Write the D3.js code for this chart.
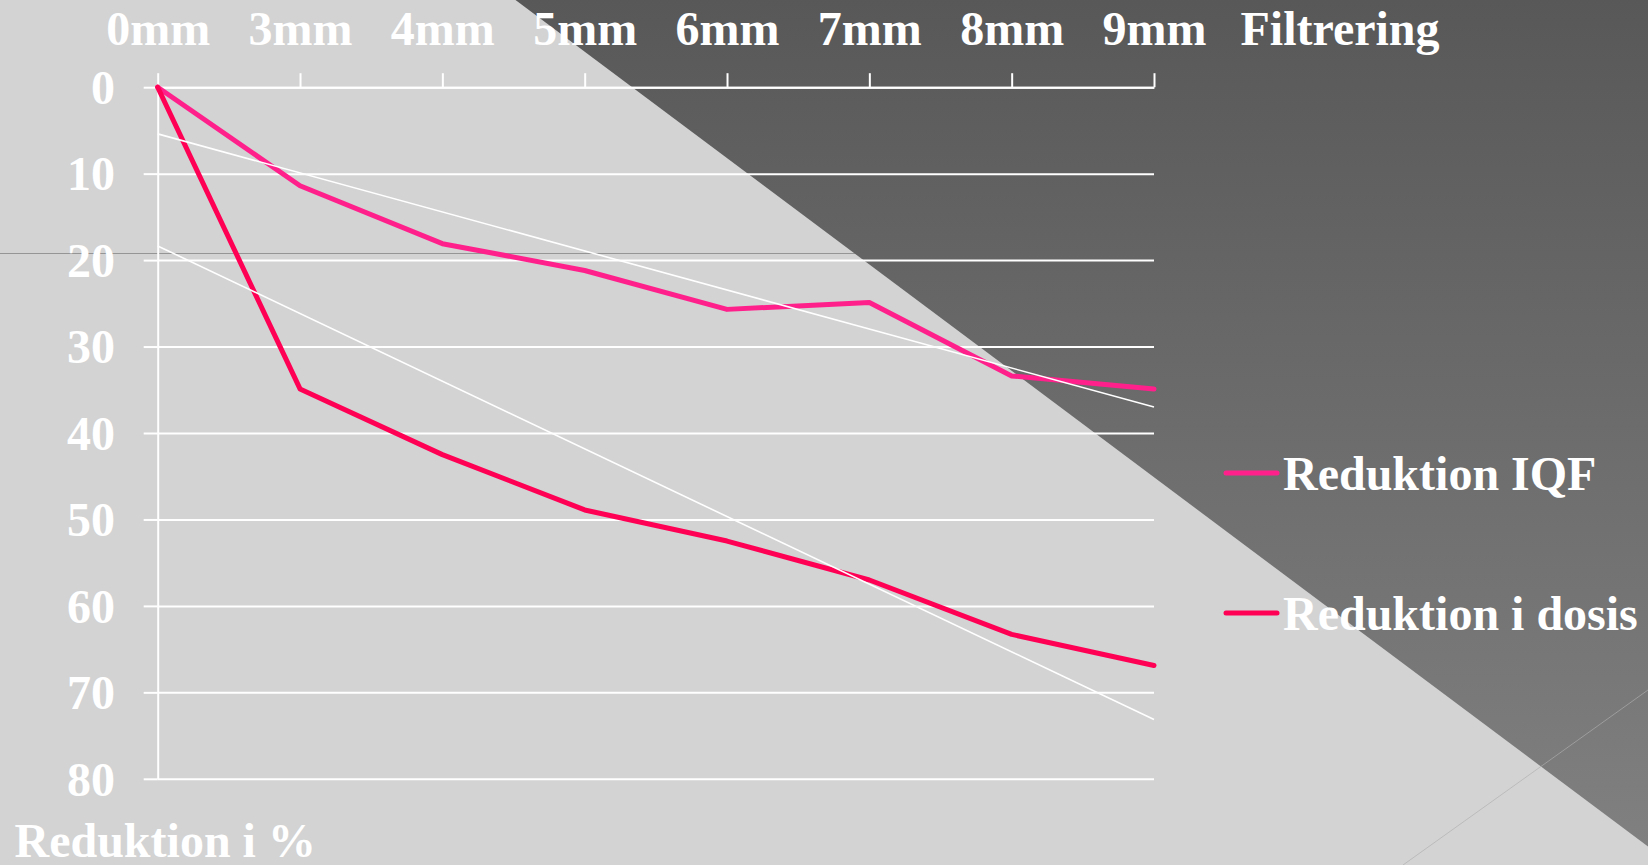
<!DOCTYPE html>
<html>
<head>
<meta charset="utf-8">
<script src="https://cdn.jsdelivr.net/npm/d3@7"></script>
<style>
  html, body { margin: 0; padding: 0; background: #d3d3d3; overflow: hidden; }
  svg { display: block; }
  text { font-family: "Liberation Serif", "Times New Roman", serif; font-weight: bold; fill: #ffffff; }
</style>
</head>
<body>
<svg id="chart" width="1648" height="865"></svg>
<script>
// Filter thickness categories (top axis)
const filters = ["0mm", "3mm", "4mm", "5mm", "6mm", "7mm", "8mm", "9mm"];
// Reduction in image quality figure (%)
const reduktionIQF = [0, 11.4, 18.1, 21.2, 25.7, 24.9, 33.4, 34.9];
// Reduction in dose (%)
const reduktionDosis = [0, 34.9, 42.5, 48.9, 52.5, 57.0, 63.3, 66.9];
// Y axis ticks
const yTicks = [0, 10, 20, 30, 40, 50, 60, 70, 80];
const seriesNames = ["Reduktion IQF", "Reduktion i dosis"];
const seriesColors = ["#ff208c", "#ff0055"];
const xTitle = "Filtrering";
const yTitle = "Reduktion i %";

const W = 1648, H = 865;
const svg = d3.select("#chart");

// Background
svg.append("rect").attr("width", W).attr("height", H).attr("fill", "#d3d3d3");

// Thin gray rule across the background
svg.append("line")
  .attr("x1", 0).attr("x2", 900).attr("y1", 253.5).attr("y2", 253.5)
  .attr("stroke", "#959595").attr("stroke-width", 1);

// Dark diagonal panel with a vertical shade
const defs = svg.append("defs");
const grad = defs.append("linearGradient").attr("id", "shade")
  .attr("x1", 0).attr("y1", 0).attr("x2", 0).attr("y2", 1);
grad.append("stop").attr("offset", "0%").attr("stop-color", "#585858");
grad.append("stop").attr("offset", "100%").attr("stop-color", "#808080");
svg.append("path")
  .attr("d", `M515.5,0 L${W},0 L${W},846.5 Z`)
  .attr("fill", "url(#shade)");

// Faint decorative diagonal bottom right
svg.append("line")
  .attr("x1", W).attr("y1", 690).attr("x2", 1403).attr("y2", H)
  .attr("stroke", "rgba(175,175,175,0.65)").attr("stroke-width", 1);

// Scales
const x0 = 157.7, x1 = 1154;
const x = d3.scalePoint().domain(filters).range([x0, x1]);
const y = d3.scaleLinear().domain([0, 80]).range([87.2, 778.8]);

// Gridlines
svg.append("g")
  .attr("transform", `translate(${x0},0)`)
  .call(d3.axisLeft(y).tickValues(yTicks).tickSize(-(x1 - x0)).tickFormat(""))
  .call(g => g.select(".domain").remove())
  .call(g => g.selectAll("line").attr("stroke", "#ffffff").attr("stroke-width", 2));

// Left axis with labels
const yAxis = svg.append("g")
  .attr("transform", `translate(${x0},0)`)
  .call(d3.axisLeft(y).tickValues(yTicks).tickSize(14).tickSizeOuter(0).tickPadding(28.7));
yAxis.select(".domain").attr("stroke", "#ffffff").attr("stroke-width", 2);
yAxis.selectAll("line").attr("stroke", "#ffffff").attr("stroke-width", 2);
yAxis.selectAll("text")
  .attr("dy", "0.34em")
  .style("font-size", "48px")
  .style("font-family", "'Liberation Serif', 'Times New Roman', serif")
  .style("font-weight", "bold")
  .attr("fill", "#ffffff");

// Top axis with category labels
const xAxis = svg.append("g")
  .attr("transform", `translate(0,${y(0)})`)
  .call(d3.axisTop(x).tickSize(14).tickSizeOuter(0).tickPadding(28.2));
xAxis.select(".domain").attr("stroke", "#ffffff").attr("stroke-width", 2);
xAxis.selectAll("line").attr("stroke", "#ffffff").attr("stroke-width", 2);
xAxis.selectAll("text")
  .style("font-size", "48px")
  .style("font-family", "'Liberation Serif', 'Times New Roman', serif")
  .style("font-weight", "bold")
  .attr("fill", "#ffffff");

// Axis titles
svg.append("text").attr("x", 1240.5).attr("y", 45).style("font-size", "48px").text(xTitle);
svg.append("text").attr("x", 14.5).attr("y", 857).style("font-size", "48px").text(yTitle);

// Data series
const allSeries = [reduktionIQF, reduktionDosis];
const line = d3.line().x((d, i) => x(filters[i])).y(d => y(d));

allSeries.forEach((vals, k) => {
  svg.append("path")
    .datum(vals)
    .attr("d", line)
    .attr("fill", "none")
    .attr("stroke", seriesColors[k])
    .attr("stroke-width", 5)
    .attr("stroke-linecap", "round")
    .attr("stroke-linejoin", "round");
});

// Linear trend lines (least squares over category index)
function linearFit(vals) {
  const n = vals.length;
  const xs = d3.range(n);
  const mx = d3.mean(xs), my = d3.mean(vals);
  const sxy = d3.sum(xs, (xi, i) => (xi - mx) * (vals[i] - my));
  const sxx = d3.sum(xs, xi => (xi - mx) * (xi - mx));
  const slope = sxy / sxx;
  const intercept = my - slope * mx;
  return [intercept, intercept + slope * (n - 1)];
}
allSeries.forEach(vals => {
  const [a, b] = linearFit(vals);
  svg.append("line")
    .attr("x1", x(filters[0])).attr("y1", y(a))
    .attr("x2", x(filters[filters.length - 1])).attr("y2", y(b))
    .attr("stroke", "#ffffff").attr("stroke-width", 1.6);
});

// Legend
const legendY = [473, 613];
seriesNames.forEach((name, k) => {
  svg.append("line")
    .attr("x1", 1226).attr("x2", 1277)
    .attr("y1", legendY[k]).attr("y2", legendY[k])
    .attr("stroke", seriesColors[k]).attr("stroke-width", 5)
    .attr("stroke-linecap", "round");
  svg.append("text")
    .attr("x", 1283).attr("y", legendY[k] + 16.5)
    .style("font-size", "48px")
    .text(name);
});
</script>
</body>
</html>
